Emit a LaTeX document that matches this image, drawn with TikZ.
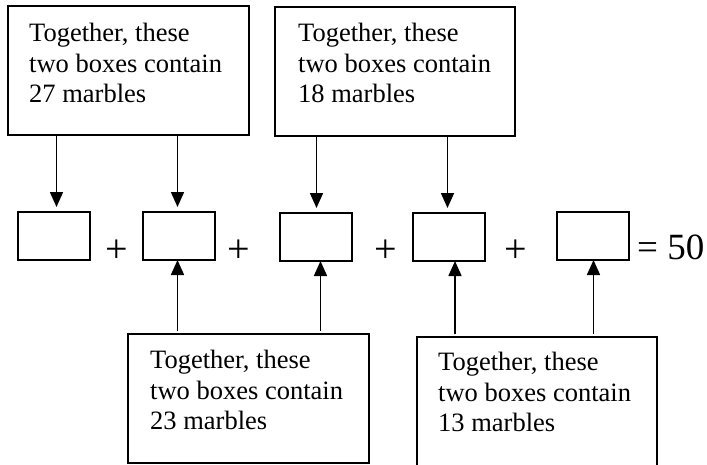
\documentclass[tikz,border=0pt]{standalone}
\usepackage{fontspec}
\setmainfont{Liberation Serif}
\usetikzlibrary{arrows.meta}
\begin{document}
\begin{tikzpicture}[x=1pt,y=-1pt,
  bigbox/.style={draw,line width=1.5pt,anchor=north west,inner sep=0pt,outer sep=0pt},
  smallbox/.style={draw,line width=1.5pt,anchor=north west,inner sep=0pt,outer sep=0pt,minimum width=72pt,minimum height=48pt},
  boxtext/.style={anchor=north west,align=left,inner sep=0pt,font=\fontsize{26.5}{30.5}\selectfont},
  eqtext/.style={inner sep=0pt,font=\fontsize{37}{40}\selectfont},
  plustext/.style={inner sep=0pt,font=\fontsize{40}{42}\selectfont},
  arr/.style={line width=1.6pt,-{Triangle[width=13pt,length=15pt]}}]
\useasboundingbox (0,0) rectangle (707,464);
\clip (0,0) rectangle (707,464);
% top boxes
\node[bigbox,minimum width=241pt,minimum height=129pt] (t1) at (8,6) {};
\node[boxtext] (t1txt) at (29,23) {Together, these\\two boxes contain\\27 marbles};
\node[bigbox,minimum width=240pt,minimum height=129pt] (t2) at (275,7) {};
\node[boxtext] (t2txt) at (298,23) {Together, these\\two boxes contain\\18 marbles};
% bottom boxes
\node[bigbox,minimum width=241pt,minimum height=129pt] (u1) at (128,334) {};
\node[boxtext] (u1txt) at (150,350) {Together, these\\two boxes contain\\23 marbles};
\node[bigbox,minimum width=240pt,minimum height=140pt] (u2) at (417,337) {};
\node[boxtext] (u2txt) at (438,352) {Together, these\\two boxes contain\\13 marbles};
% equation row
\node[smallbox] (b1) at (18,212) {};
\node[smallbox] (b2) at (143,212) {};
\node[smallbox] (b3) at (280,213) {};
\node[smallbox] (b4) at (413,213) {};
\node[smallbox] (b5) at (557,212) {};
\node[plustext] (p1) at (117,251) {+};
\node[plustext] (p2) at (239,251) {+};
\node[plustext] (p3) at (386,251) {+};
\node[plustext] (p4) at (516,251) {+};
\node[eqtext,anchor=base west] (eq) at (637,259) {= 50};
% arrow ends
\coordinate (d1) at ([xshift=2.5pt]b1.north);
\coordinate (d2) at ([xshift=-1.5pt]b2.north);
\coordinate (d3) at ([xshift=0.5pt]b3.north);
\coordinate (d4) at ([xshift=-1.5pt]b4.north);
\coordinate (e2) at ([xshift=-1.5pt]b2.south);
\coordinate (e3) at ([xshift=4.5pt]b3.south);
\coordinate (e4) at ([xshift=6pt]b4.south);
\coordinate (e5) at ([xshift=0.5pt]b5.south);
% arrows down
\draw[arr,shorten >=5pt] (t1.south -| d1) -- (d1);
\draw[arr,shorten >=5pt] (t1.south -| d2) -- (d2);
\draw[arr,shorten >=5pt] (t2.south -| d3) -- (d3);
\draw[arr,shorten >=5pt] (t2.south -| d4) -- (d4);
% arrows up
\draw[arr,shorten <=3pt] (u1.north -| e2) -- (e2);
\draw[arr,shorten <=3pt] (u1.north -| e3) -- (e3);
\draw[arr,shorten <=3pt] (u2.north -| e4) -- (e4);
\draw[arr,shorten <=3pt] (u2.north -| e5) -- (e5);
\end{tikzpicture}
\end{document}
